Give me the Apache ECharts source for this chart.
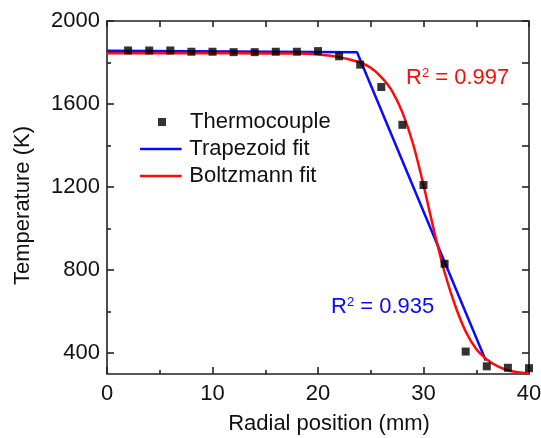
<!DOCTYPE html>
<html>
<head>
<meta charset="utf-8">
<script src="https://cdn.jsdelivr.net/npm/echarts@6/dist/echarts.min.js"></script>
<style>
  html, body { margin: 0; padding: 0; background: #fff; }
  #chart { width: 541px; height: 438px; }
</style>
</head>
<body>
<div id="chart"></div>
<script>
// Measured thermocouple temperatures along the radius
const tcRadius = [2, 4, 6, 8, 10, 12, 14, 16, 18, 20, 22, 24, 26, 28, 30, 32, 34, 36, 38, 40];
const tcTemp   = [1858, 1858, 1858, 1852, 1852, 1850, 1850, 1852, 1852, 1855, 1830, 1790, 1682, 1500, 1210, 831, 408, 337, 330, 328];

// Trapezoid fit: plateau, then linear fall-off
const trapRadius = [0, 23.7, 35.9];
const trapTemp   = [1857, 1850, 365];

// Boltzmann fit curve
const boltzRadius = [0, 5, 10, 15, 18, 20, 21, 22, 23, 24, 25, 26, 27, 28, 29, 30, 31, 32, 33, 34, 35, 36, 37, 38, 39, 40];
const boltzTemp   = [1845, 1845, 1845, 1844, 1843, 1839, 1834, 1826, 1815, 1800, 1775, 1730, 1665, 1560, 1410, 1210, 990, 790, 630, 505, 420, 370, 338, 318, 308, 302];

// Axis ticks
const xMajor = [0, 10, 20, 30, 40];
const xMinor = [5, 15, 25, 35];
const xAll   = [0, 5, 10, 15, 20, 25, 30, 35, 40];
const yMajor = [400, 800, 1200, 1600, 2000];
const yMinor = [600, 1000, 1400, 1800];
const yAll   = [400, 600, 800, 1000, 1200, 1400, 1600, 1800, 2000];

const FONT = 'Liberation Sans, Arial, sans-serif';
const FS = 22;
const BLUE = '#0a0aff';
const RED = '#ff0a0a';
const INK = '#222';

const zip = (a, b) => a.map((v, i) => [v, b[i]]);

const chart = echarts.init(document.getElementById('chart'), null, { renderer: 'canvas' });

const tickStyle = { color: INK, width: 1.6 };
const X_RANGE = { type: 'value', min: 0, max: 40 };
const Y_RANGE = { type: 'value', min: 300, max: 2000 };

// An axis that only carries inward tick marks on one side of the frame
function tickAxis(range, position, values, len) {
  return Object.assign({}, range, {
    position: position,
    axisLine: { show: false, onZero: false },
    axisTick: { show: true, inside: true, length: len, customValues: values, lineStyle: tickStyle },
    axisLabel: { show: false },
    splitLine: { show: false }
  });
}

const option = {
  animation: false,
  backgroundColor: '#fff',
  grid: {
    left: 107, right: 12, top: 21, bottom: 64, containLabel: false,
    outerBoundsMode: 'none',
    show: true, borderColor: INK, borderWidth: 1.6, backgroundColor: 'transparent'
  },
  xAxis: [
    Object.assign({}, X_RANGE, {
      position: 'bottom',
      axisLine: { show: false, onZero: false },
      axisTick: { show: false },
      axisLabel: { customValues: xMajor, color: '#111', fontFamily: FONT, fontSize: FS, margin: 9 },
      splitLine: { show: false },
      name: 'Radial position (mm)', nameLocation: 'middle', nameGap: 39,
      nameTextStyle: { color: '#111', fontFamily: FONT, fontSize: FS, padding: [0, 0, 0, 22] }
    }),
    tickAxis(X_RANGE, 'bottom', xMajor, 7),
    tickAxis(X_RANGE, 'bottom', xMinor, 4),
    tickAxis(X_RANGE, 'top', xAll, 6)
  ],
  yAxis: [
    Object.assign({}, Y_RANGE, {
      position: 'left',
      axisLine: { show: false, onZero: false },
      axisTick: { show: false },
      axisLabel: { customValues: yMajor, formatter: v => String(v), color: '#111', fontFamily: FONT, fontSize: FS, margin: 7 },
      splitLine: { show: false },
      name: 'Temperature (K)', nameLocation: 'middle', nameGap: 73,
      nameTextStyle: { color: '#111', fontFamily: FONT, fontSize: FS, padding: [0, 16, 0, 0] }
    }),
    tickAxis(Y_RANGE, 'left', yMajor, 7),
    tickAxis(Y_RANGE, 'left', yMinor, 4),
    tickAxis(Y_RANGE, 'right', yAll, 7)
  ],
  legend: [
    {
      data: [{ name: 'Thermocouple', icon: 'rect' }],
      left: 158, top: 111, padding: 0,
      itemWidth: 8, itemHeight: 8,
      textStyle: { color: '#111', fontFamily: FONT, fontSize: FS, padding: [0, 0, 0, 19] }
    },
    {
      data: [{ name: 'Trapezoid fit', icon: 'path://M0,0H40V2.5H0Z' }],
      left: 140, top: 138, padding: 0,
      itemWidth: 43, itemHeight: 2.6,
      textStyle: { color: '#111', fontFamily: FONT, fontSize: FS, padding: [0, 0, 0, 2] }
    },
    {
      data: [{ name: 'Boltzmann fit', icon: 'path://M0,0H40V2.5H0Z' }],
      left: 140, top: 165, padding: 0,
      itemWidth: 43, itemHeight: 2.6,
      textStyle: { color: '#111', fontFamily: FONT, fontSize: FS, padding: [0, 0, 0, 2] }
    }
  ],
  series: [
    {
      name: 'Trapezoid fit', type: 'line', xAxisIndex: 0, yAxisIndex: 0,
      data: zip(trapRadius, trapTemp),
      showSymbol: false, symbol: 'none',
      lineStyle: { color: BLUE, width: 2.5 }, itemStyle: { color: BLUE },
      z: 2
    },
    {
      name: 'Boltzmann fit', type: 'line', xAxisIndex: 0, yAxisIndex: 0,
      data: zip(boltzRadius, boltzTemp),
      smooth: 0.3,
      showSymbol: false, symbol: 'none',
      lineStyle: { color: RED, width: 2.5 }, itemStyle: { color: RED },
      z: 3
    },
    {
      name: 'Thermocouple', type: 'scatter', xAxisIndex: 0, yAxisIndex: 0,
      data: zip(tcRadius, tcTemp),
      symbol: 'rect', symbolSize: 8,
      itemStyle: { color: '#000' },
      z: 4
    }
  ],
  graphic: [
    {
      type: 'text', left: 406, top: 67, z: 10,
      style: {
        text: '{r|R}{s|2}{r| = 0.997}',
        rich: {
          r: { fill: RED, fontFamily: FONT, fontSize: FS, verticalAlign: 'bottom' },
          s: { fill: RED, fontFamily: FONT, fontSize: 13, verticalAlign: 'top' }
        }
      }
    },
    {
      type: 'text', left: 331, top: 296, z: 10,
      style: {
        text: '{r|R}{s|2}{r| = 0.935}',
        rich: {
          r: { fill: BLUE, fontFamily: FONT, fontSize: FS, verticalAlign: 'bottom' },
          s: { fill: BLUE, fontFamily: FONT, fontSize: 13, verticalAlign: 'top' }
        }
      }
    }
  ]
};

chart.setOption(option);
</script>
</body>
</html>
